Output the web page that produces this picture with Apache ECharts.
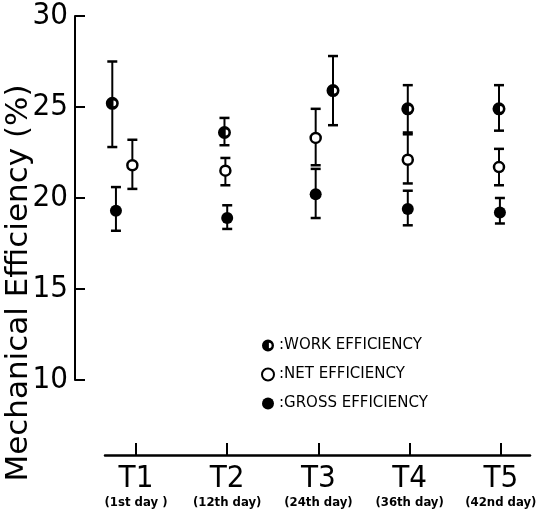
<!DOCTYPE html>
<html>
<head>
<meta charset="utf-8">
<script src="https://cdn.jsdelivr.net/npm/echarts@6/dist/echarts.min.js"></script>
<style>html,body{margin:0;padding:0;background:#fff}#c{width:536px;height:517px}</style>
</head>
<body>
<div id="c"></div>
<script>
// ---- data ----
const categories = ['T1', 'T2', 'T3', 'T4', 'T5'];
const subLabels = ['(1st day )', '(12th day)', '(24th day)', '(36th day)', '(42nd day)'];
const yTicks = [10, 15, 20, 25, 30];

// horizontal positions (category index, with the small offsets seen in the figure)
const workX  = [0.74, 1.97, 3.16, 3.98, 4.98];
const netX   = [0.96, 1.98, 2.97, 3.98, 4.98];
const grossX = [0.78, 2.00, 2.97, 3.98, 4.99];

const workMean  = [25.2, 23.6, 25.9, 24.9, 24.9];
const workLow   = [22.8, 22.9, 24.0, 23.6, 23.7];
const workHigh  = [27.5, 24.4, 27.8, 26.2, 26.2];

const netMean   = [21.8, 21.5, 23.3, 22.1, 21.7];
const netLow    = [20.5, 20.7, 21.8, 20.8, 20.7];
const netHigh   = [23.2, 22.2, 24.9, 23.5, 22.7];

const grossMean = [19.3, 18.9, 20.2, 19.4, 19.2];
const grossLow  = [18.2, 18.3, 18.9, 18.5, 18.6];
const grossHigh = [20.6, 19.6, 21.6, 20.4, 20.0];

const seriesNames = ['WORK EFFICIENCY', 'NET EFFICIENCY', 'GROSS EFFICIENCY'];

// ---- chart ----
const halfSym = 'path://M10,0 A10,10 0 1,1 10,20 A10,10 0 1,1 10,0 Z M11.5,5.5 L11.5,14.5 A4.5,4.5 0 0,0 11.5,5.5 Z';

function errSeries(xs, lo, hi) {
  return {
    type: 'custom',
    silent: true,
    z: 2,
    data: xs.map((x, i) => [x, lo[i], hi[i]]),
    encode: { x: 0, y: [1, 2] },
    renderItem: function (params, api) {
      const x = api.value(0);
      const pLo = api.coord([x, api.value(1)]);
      const pHi = api.coord([x, api.value(2)]);
      const w = 5;
      return {
        type: 'group',
        children: [
          { type: 'line', shape: { x1: pLo[0], y1: pLo[1], x2: pHi[0], y2: pHi[1] }, style: { stroke: '#000', lineWidth: 2 } },
          { type: 'line', shape: { x1: pLo[0] - w, y1: pLo[1], x2: pLo[0] + w, y2: pLo[1] }, style: { stroke: '#000', lineWidth: 2.5 } },
          { type: 'line', shape: { x1: pHi[0] - w, y1: pHi[1], x2: pHi[0] + w, y2: pHi[1] }, style: { stroke: '#000', lineWidth: 2.5 } }
        ]
      };
    }
  };
}

const narrow = "'DejaVu Sans Condensed', 'Liberation Sans Narrow', sans-serif";

const chart = echarts.init(document.getElementById('c'), null, { renderer: 'canvas' });
chart.setOption({
  animation: false,
  backgroundColor: '#fff',
  grid: { left: 105, right: 6, top: 16, bottom: 137, containLabel: false, outerBoundsMode: 'none' },
  legend: {
    orient: 'vertical',
    left: 256,
    top: 333,
    itemWidth: 12,
    itemHeight: 12,
    itemGap: 14,
    data: seriesNames,
    formatter: ':{name}',
    textStyle: { fontFamily: "'DejaVu Sans', sans-serif", fontSize: 15, color: '#000' }
  },
  xAxis: {
    type: 'value',
    min: 0.66,
    max: 5.32,
    offset: 75,
    splitLine: { show: false },
    axisLine: { show: true, lineStyle: { color: '#000', width: 2.5 } },
    axisTick: { show: true, inside: true, length: 12, lineStyle: { color: '#000', width: 2 }, customValues: [1, 2, 3, 4, 5] },
    axisLabel: {
      margin: 9,
      customValues: [1, 2, 3, 4, 5],
      formatter: function (v) {
        const i = Math.round(v) - 1;
        return '{t|' + categories[i] + '}\n{s|' + subLabels[i] + '}';
      },
      rich: {
        t: { fontFamily: narrow, fontSize: 31, lineHeight: 30, color: '#000' },
        s: { fontFamily: narrow, fontSize: 13, fontWeight: 'bold', lineHeight: 18, color: '#000' }
      }
    }
  },
  yAxis: {
    type: 'value',
    min: 10,
    max: 30,
    interval: 5,
    offset: 30,
    name: 'Mechanical Efficiency (%)',
    nameLocation: 'middle',
    nameRotate: 90,
    nameGap: 41,
    nameMoveOverlap: false,
    nameTextStyle: { fontFamily: "'DejaVu Sans', sans-serif", fontSize: 31, color: '#000', padding: [0, 170, 0, 0] },
    splitLine: { show: false },
    axisLine: { show: true, lineStyle: { color: '#000', width: 2 } },
    axisTick: { show: true, inside: true, length: 10, lineStyle: { color: '#000', width: 2 } },
    axisLabel: {
      margin: 7,
      fontFamily: narrow,
      fontSize: 31,
      color: '#000',
      formatter: function (v) { return yTicks.indexOf(v) >= 0 ? String(v) : ''; }
    }
  },
  series: [
    errSeries(workX, workLow, workHigh),
    errSeries(netX, netLow, netHigh),
    errSeries(grossX, grossLow, grossHigh),
    {
      name: seriesNames[0], type: 'scatter', z: 5,
      symbol: halfSym, symbolSize: 13,
      itemStyle: { color: '#000', opacity: 1 },
      data: workX.map((x, i) => [x, workMean[i]])
    },
    {
      name: seriesNames[1], type: 'scatter', z: 5,
      symbol: 'circle', symbolSize: 10,
      itemStyle: { color: '#fff', borderColor: '#000', borderWidth: 2.5, opacity: 1 },
      data: netX.map((x, i) => [x, netMean[i]])
    },
    {
      name: seriesNames[2], type: 'scatter', z: 5,
      symbol: 'circle', symbolSize: 12,
      itemStyle: { color: '#000', opacity: 1 },
      data: grossX.map((x, i) => [x, grossMean[i]])
    }
  ]
});
</script>
</body>
</html>
